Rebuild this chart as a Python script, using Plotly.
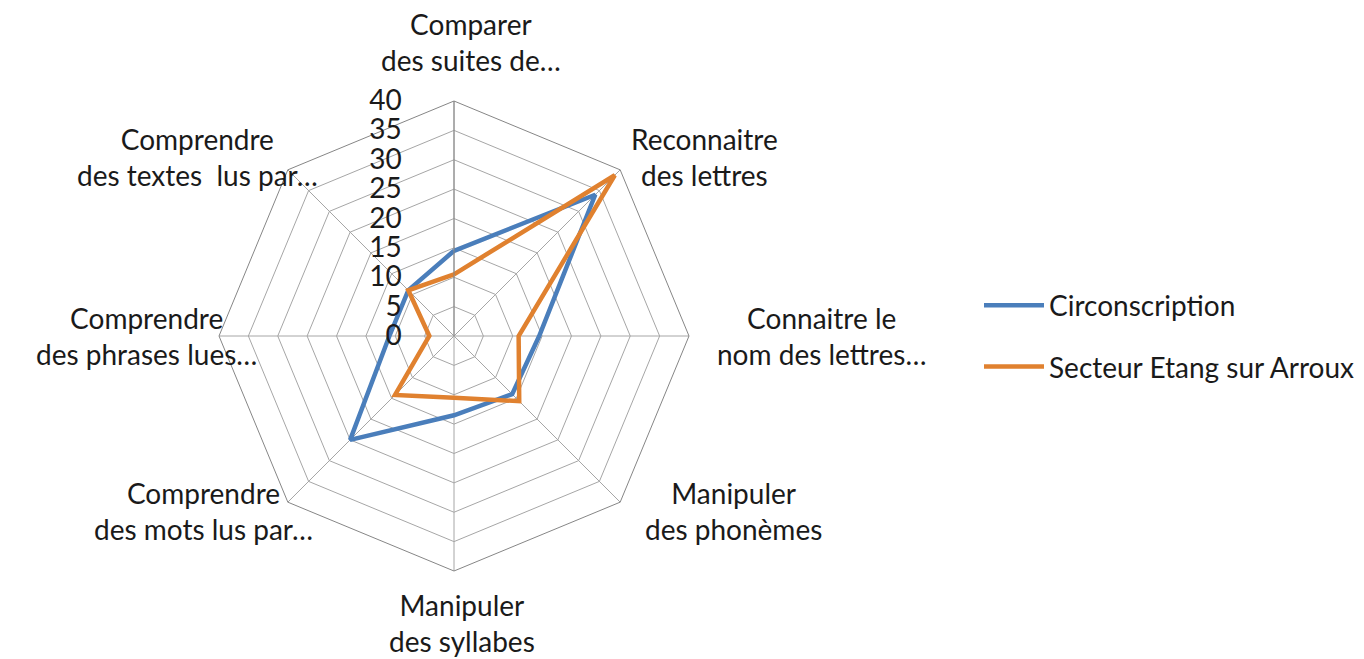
import plotly.graph_objects as go

categories = [
    "Comparer<br>des suites de…",
    "Reconnaitre<br>des lettres",
    "Connaitre le<br>nom des lettres…",
    "Manipuler<br>des phonèmes",
    "Manipuler<br>des syllabes",
    "Comprendre<br>des mots lus par…",
    "Comprendre<br>des phrases lues…",
    "Comprendre<br>des textes  lus par…",
]
circonscription = [14.5, 34, 14.5, 14, 13.5, 25, 11, 11]
secteur = [10.5, 38.7, 11, 15.7, 10.5, 14.2, 4.2, 11]
series_names = ["Circonscription", "Secteur Etang sur Arroux"]
colors = ["#4A7EBB", "#E0812F"]
radial_ticks = [0, 5, 10, 15, 20, 25, 30, 35, 40]

# label block centres (pixels from top-left) for the category labels
label_pos = [(463, 34), (696, 149), (813, 328), (725, 503),
             (454, 615), (195, 503), (138, 328), (190, 149)]

FONT = "Lato"
TXT = "#1a1a1a"
fig = go.Figure()
for name, vals, col, grp in zip(series_names, [circonscription, secteur], colors, ["a", "b"]):
    fig.add_trace(go.Scatterpolar(
        r=vals + vals[:1], theta=categories + categories[:1],
        mode="lines", name=name, legendgroup=grp,
        line=dict(color=col, width=4.5),
    ))

W, H = 1364, 659
cx, cy, R = 446, 328, 235
for txt, (px, py) in zip(categories, label_pos):
    fig.add_annotation(
        text=txt, x=px / W, y=1 - py / H, xref="paper", yref="paper",
        xanchor="center", yanchor="middle", align="center", showarrow=False,
        font=dict(family=FONT, size=28, color=TXT),
    )

fig.update_layout(
    width=W, height=H,
    margin=dict(l=0, r=0, t=0, b=0),
    paper_bgcolor="white", plot_bgcolor="white",
    font=dict(family=FONT, size=28, color=TXT),
    polar=dict(
        domain=dict(x=[(cx - R) / W, (cx + R) / W], y=[(H - cy - R) / H, (H - cy + R) / H]),
        gridshape="linear",
        bgcolor="white",
        radialaxis=dict(
            range=[0, 40], tickvals=radial_ticks, angle=90, tickangle=90,
            side="counterclockwise", showline=True, linecolor="#868686", linewidth=1,
            gridcolor="#A6A6A6", gridwidth=1, ticks="outside", ticklen=42,
            tickcolor="rgba(0,0,0,0)", tickfont=dict(family=FONT, size=28, color=TXT),
        ),
        angularaxis=dict(
            rotation=90, direction="clockwise", showline=True, linecolor="#868686",
            linewidth=1, gridcolor="#A6A6A6", gridwidth=1,
            showticklabels=False, ticks="",
        ),
    ),
    legend=dict(
        x=971 / W, y=(H - 328) / H, xanchor="left", yanchor="middle",
        font=dict(family=FONT, size=28, color=TXT),
        itemwidth=60, tracegroupgap=22, bgcolor="rgba(0,0,0,0)",
    ),
)
fig.write_html("out.html")
